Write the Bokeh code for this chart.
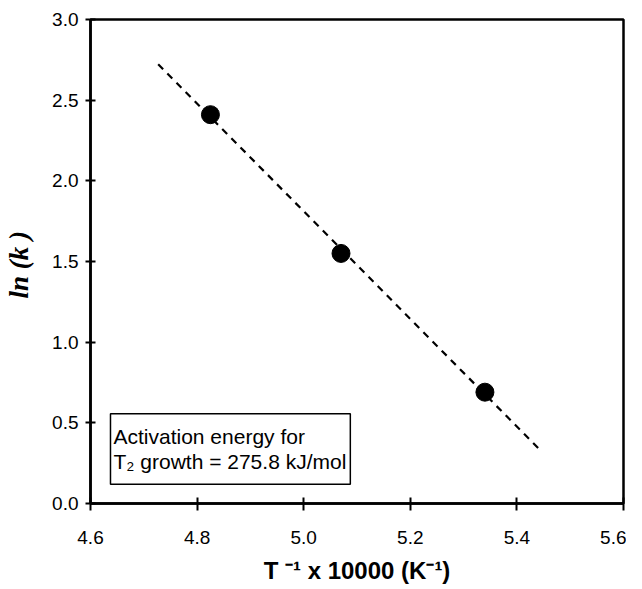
import numpy as np
from bokeh.plotting import figure
from bokeh.models import FixedTicker, NumeralTickFormatter, Label
from bokeh.embed import file_html
from bokeh.resources import INLINE

# Data
inv_T = [4.825, 5.07, 5.34]          # T^-1 x 10000 (K^-1)
ln_k = [2.41, 1.55, 0.69]            # ln(k)
fit_x_span = [4.727, 5.445]          # extent of the dashed fit line
x_ticks = [4.6, 4.8, 5.0, 5.2, 5.4, 5.6]
y_ticks = [0.0, 0.5, 1.0, 1.5, 2.0, 2.5, 3.0]
box_text = "Activation energy for\nT\u2082 growth = 275.8 kJ/mol"

slope, intercept = np.polyfit(inv_T, ln_k, 1)
fit_x = np.array(fit_x_span)
fit_y = slope * fit_x + intercept

p = figure(width=626, height=589, x_range=(4.6, 5.6), y_range=(0.0, 3.0),
           output_backend="svg", toolbar_location=None,
           min_border_left=90, min_border_right=3, min_border_top=19, min_border_bottom=86)

p.xgrid.visible = False
p.ygrid.visible = False
p.outline_line_color = "black"
p.outline_line_width = 2.5
p.outline_line_alpha = 1.0

p.line(fit_x, fit_y, line_color="black", line_width=2.2, line_dash="7 6")
p.scatter(inv_T, ln_k, size=18, color="black")

for ax in (p.xaxis[0], p.yaxis[0]):
    ax.axis_line_color = "black"
    ax.axis_line_width = 2.5
    ax.major_tick_line_color = "black"
    ax.major_tick_line_width = 2
    ax.minor_tick_line_color = None
    ax.major_label_text_font = "Liberation Sans"
    ax.major_label_text_font_size = "19px"
    ax.major_label_text_color = "black"
    ax.formatter = NumeralTickFormatter(format="0.0")

p.xaxis.ticker = FixedTicker(ticks=x_ticks)
p.yaxis.ticker = FixedTicker(ticks=y_ticks)
p.xaxis.major_tick_in = 6
p.xaxis.major_tick_out = 7
p.yaxis.major_tick_in = 5
p.yaxis.major_tick_out = 5
p.xaxis.major_label_standoff = 20
p.yaxis.major_label_standoff = 7

p.xaxis.axis_label = "T \u207b\u00b9 x 10000 (K\u207b\u00b9)"
p.xaxis.axis_label_text_font = "Liberation Sans"
p.xaxis.axis_label_text_font_style = "bold"
p.xaxis.axis_label_text_font_size = "24px"
p.xaxis.axis_label_text_color = "black"
p.xaxis.axis_label_standoff = 10

p.yaxis.axis_label = "ln  (k )"
p.yaxis.axis_label_text_font = "Liberation Serif"
p.yaxis.axis_label_text_font_style = "bold italic"
p.yaxis.axis_label_text_font_size = "27px"
p.yaxis.axis_label_text_color = "black"
p.yaxis.axis_label_standoff = 15

lbl = Label(x=4.6375, y=0.12, text=box_text, anchor="bottom_left",
            text_font="Liberation Sans", text_font_size="21px", text_color="black",
            text_line_height=1.1, padding=(3, 4, 11, 11),
            border_line_color="black", border_line_width=1.5,
            background_fill_color="white")
p.add_layout(lbl)

open("out.html", "w").write(file_html(p, INLINE))
